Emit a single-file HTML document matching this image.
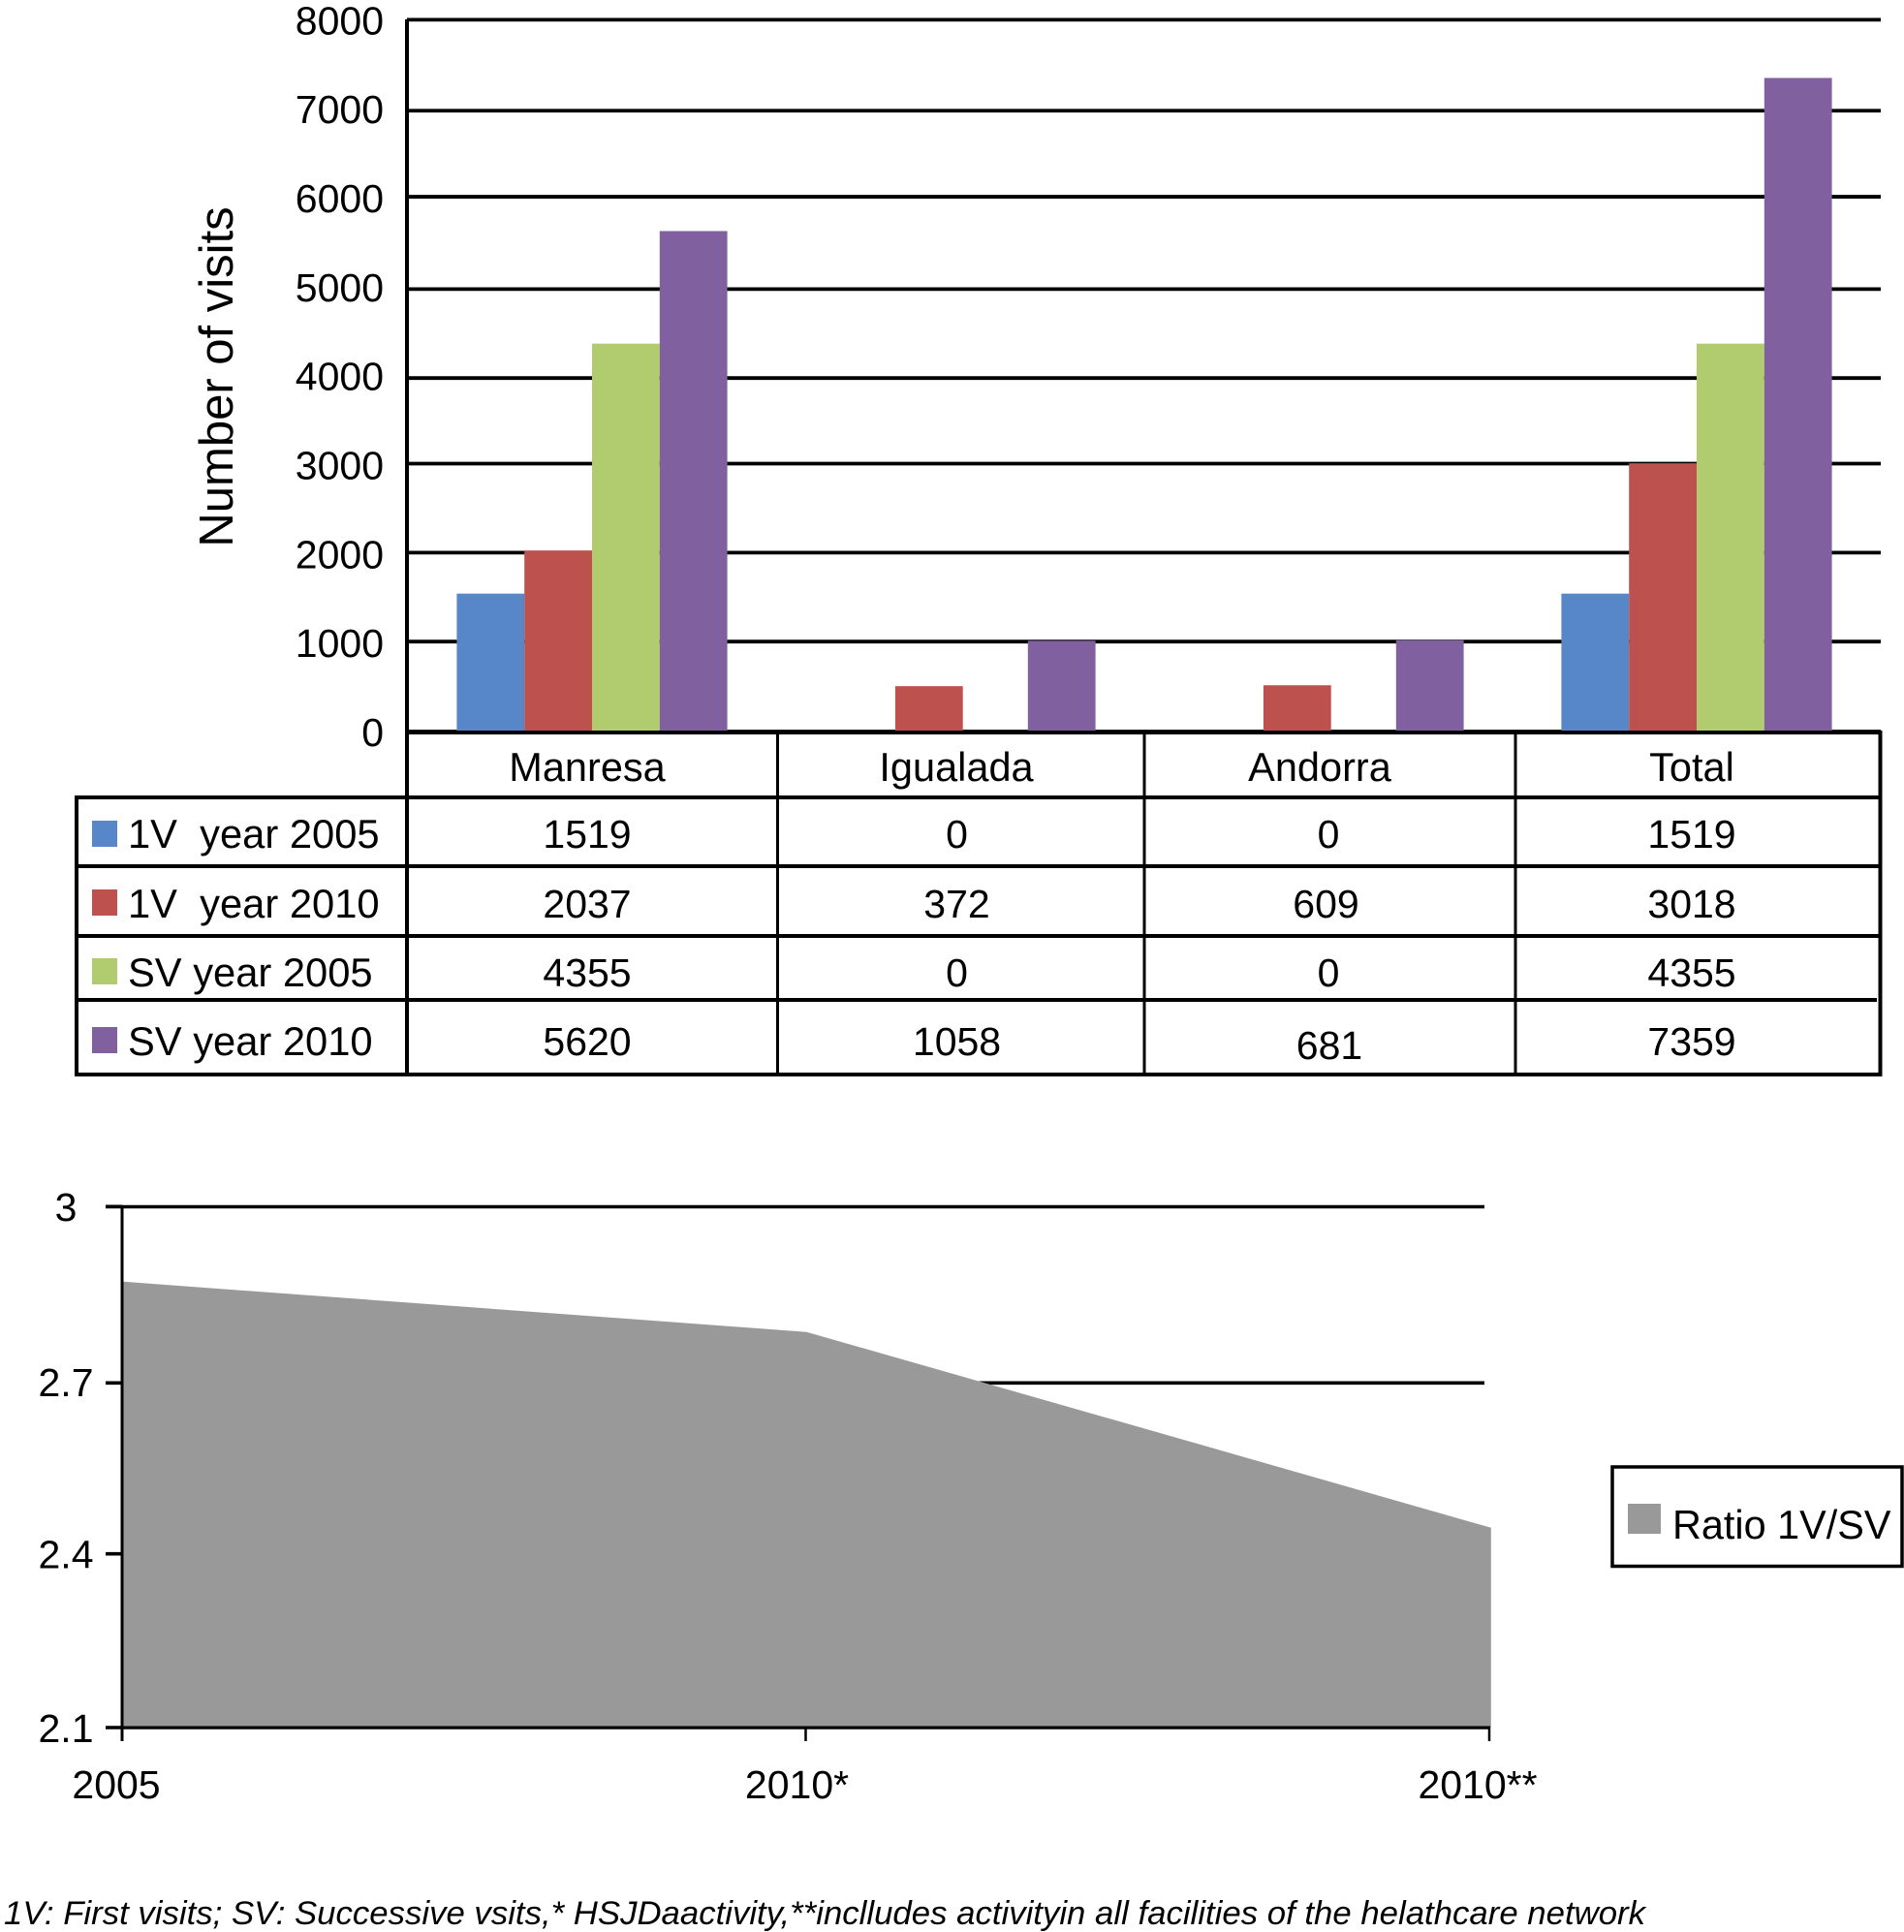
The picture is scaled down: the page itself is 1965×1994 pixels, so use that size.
<!DOCTYPE html>
<html lang="en">
<head>
<meta charset="utf-8">
<title>Number of visits and ratio 1V/SV</title>
<style>
html,body{margin:0;padding:0;background:#fff;width:1965px;height:1994px;overflow:hidden}
svg{display:block;font-family:"Liberation Sans",Arial,sans-serif;fill:#000}
text{white-space:pre}
</style>
</head>
<body>
<svg id="figure" xmlns="http://www.w3.org/2000/svg" width="1965" height="1994" viewBox="0 0 1965 1994">
  <rect width="1965" height="1994" fill="#fff"/>
  <g id="grid-top"></g>
  <g id="bars"></g>
  <g id="axis-top"></g>
  <g id="table"></g>
  <text x="240" y="389" font-size="49" text-anchor="middle" transform="rotate(-90 240 389)">Number of visits</text>
  <g id="grid-bottom"></g>
  <g id="area"></g>
  <g id="axis-bottom"></g>
  <g>
    <rect x="1664" y="1514" width="299" height="102.5" fill="#fff" stroke="#000" stroke-width="3.5"/>
    <rect x="1680" y="1552" width="34" height="31" fill="#999999"/>
    <text x="1726" y="1588" font-size="41.4">Ratio 1V/SV</text>
  </g>
  <text x="4" y="1986" font-size="34" font-style="italic" textLength="1694" lengthAdjust="spacingAndGlyphs">1V: First visits; SV: Successive vsits,* HSJDaactivity,**inclludes activityin all facilities of the helathcare network</text>
</svg>
<script>
// ---- bar chart data ----
const categories = ['Manresa', 'Igualada', 'Andorra', 'Total'];
const seriesNames = ['1V  year 2005', '1V  year 2010', 'SV year 2005', 'SV year 2010'];
const seriesColors = ['#5787c9', '#bc514d', '#b1cc6f', '#80609f'];
// bar heights as drawn in the picture
const bars1V2005 = [1550, 0, 0, 1550];
const bars1V2010 = [2035, 510, 520, 3015];
const barsSV2005 = [4360, 0, 0, 4360];
const barsSV2010 = [5625, 1020, 1025, 7346];
const yTicksTop = [0, 1000, 2000, 3000, 4000, 5000, 6000, 7000, 8000];
// values printed in the table
const table1V2005 = ['1519', '0', '0', '1519'];
const table1V2010 = ['2037', '372', '609', '3018'];
const tableSV2005 = ['4355', '0', '0', '4355'];
const tableSV2010 = ['5620', '1058', '681', '7359'];
// ---- area chart data ----
const ratioCategories = ['2005', '2010*', '2010**'];
const ratioValues = [2.87, 2.783, 2.445];
const yTicksBottom = [2.1, 2.4, 2.7, 3];
const yTickLabelsBottom = ['2.1', '2.4', '2.7', '3'];

const NS = 'http://www.w3.org/2000/svg';
function el(tag, attrs, parent) {
  const n = document.createElementNS(NS, tag);
  for (const k in attrs) n.setAttribute(k, attrs[k]);
  parent.appendChild(n);
  return n;
}
const yTop = v => 755 - (v / 8000) * 734.6;
const catCenter = i => 611 + 380 * i;
const slotW = 69.8;
const yBot = v => 1783 - ((v - 2.1) / 0.9) * 538;
const xBot = i => 126 + 705.5 * i;
// the source gridlines are drawn slightly unevenly
const gridWobble = t => ({7000: 2, 6000: -1, 5000: 2.5, 4000: 2.5, 3000: -1, 2000: -1, 1000: -1}[t] || 0);

// gridlines of the bar chart
const gridTop = document.getElementById('grid-top');
yTicksTop.forEach(t => {
  const l = el('line', {x1: 420, x2: 1941, y1: yTop(t) + gridWobble(t), y2: yTop(t) + gridWobble(t), stroke: '#000', 'stroke-width': 3.8}, gridTop);
  
  
});

// bars
const barsGroup = document.getElementById('bars');
[bars1V2005, bars1V2010, barsSV2005, barsSV2010].forEach((vals, s) => {
  vals.forEach((v, c) => {
    if (v <= 0) return;
    const shift = (s === 1 && (c === 1 || c === 2)) ? 2.7 : 0;
    const r = el('rect', {x: catCenter(c) - 2 * slotW + s * slotW + shift, y: yTop(v), width: slotW, height: 757 - yTop(v), fill: seriesColors[s]}, barsGroup);
    
    
  });
});

// y axis of the bar chart
const axisTop = document.getElementById('axis-top');
yTicksTop.forEach(t => {
  const tx = el('text', {x: 396, y: yTop(t) + 15, 'font-size': 41, 'text-anchor': 'end'}, axisTop);
  
  
  tx.textContent = String(t);
});

// data table
const tableG = document.getElementById('table');
function tableLine(x1, y1, x2, y2, w, name) {
  const l = el('line', {x1: x1, y1: y1, x2: x2, y2: y2, stroke: '#000', 'stroke-width': w}, tableG);
  
  
}
const rowLines = [823, 894, 966, 1032, 1109];
const colLines = [802.5, 1181, 1564];
tableLine(420, 20, 420, 1111, 4, 'table-axis-line');
tableLine(79, 821, 79, 1111, 4, 'table-left-border');
tableLine(1940.5, 754, 1940.5, 1111, 4, 'table-right-border');
tableLine(420, 756, 1942, 756, 4, 'table-top-border');
rowLines.forEach((y, i) => {
  tableLine(79, y, i === 3 ? 1937 : 1942, y, 4, 'table-row-line-' + i);
});
colLines.forEach((x, i) => {
  tableLine(x, 756, x, 1109, 3, 'table-col-line-' + i);
});
const colCenter = i => catCenter(i) - 5;
const headerShift = [0, 1, -4, 0];
categories.forEach((c, i) => {
  const t = el('text', {x: colCenter(i) + headerShift[i], y: 806, 'font-size': 41.5, 'text-anchor': 'middle'}, tableG);
  
  
  t.textContent = c;
});
const baselines = [875, 947, 1018, 1089];
const swatchTops = [847, 918, 989, 1060];
[table1V2005, table1V2010, tableSV2005, tableSV2010].forEach((vals, r) => {
  const sw = el('rect', {x: 95, y: swatchTops[r], width: 26, height: 27, fill: seriesColors[r]}, tableG);
  
  
  const lab = el('text', {x: 132, y: baselines[r], 'font-size': 41.7}, tableG);
  
  
  lab.textContent = seriesNames[r];
  vals.forEach((v, c) => {
    const nudge = (r === 3 && c === 2) ? 4 : 0;
    let dx = c === 2 ? 5 : (c === 1 ? 1.5 : 0);
    if (r === 1 && c === 2) dx = 2.5;
    if (r === 3 && c === 2) dx = 6;
    const t = el('text', {x: colCenter(c) + dx, y: baselines[r] + nudge, 'font-size': 41, 'text-anchor': 'middle'}, tableG);
    
    
    t.textContent = v;
  });
});

// area chart gridlines
const gridBottom = document.getElementById('grid-bottom');
yTicksBottom.forEach(t => {
  const wob = t === 2.7 ? 3 : (t === 3 ? 0.5 : 0);
  const l = el('line', {x1: 109, x2: t === 2.1 ? 1537 : t === 2.4 ? 126 : 1532, y1: yBot(t) + wob, y2: yBot(t) + wob, stroke: '#000', 'stroke-width': 3.6}, gridBottom);
  
  
});

// area series
const areaG = document.getElementById('area');
const areaX = i => xBot(i) + i * 0.9;
const areaPts = ratioValues.map((v, i) => areaX(i) + ',' + yBot(v));
areaPts.push(areaX(ratioValues.length - 1) + ',' + yBot(2.1));
areaPts.push(areaX(0) + ',' + yBot(2.1));
const poly = el('polygon', {points: areaPts.join(' '), fill: '#999999'}, areaG);



// area chart axes
const axisBottom = document.getElementById('axis-bottom');
const yLine = el('line', {x1: 126, x2: 126, y1: yBot(3) - 1, y2: 1797, stroke: '#000', 'stroke-width': 3}, axisBottom);


const xLine = el('line', {x1: 109, x2: 1538, y1: yBot(2.1), y2: yBot(2.1), stroke: '#000', 'stroke-width': 3}, axisBottom);


yTicksBottom.forEach((t, i) => {
  const tickWob = t === 2.7 ? 3 : 0;
  const tick = el('line', {x1: 109, x2: 126, y1: yBot(t) + tickWob, y2: yBot(t) + tickWob, stroke: '#000', 'stroke-width': 3}, axisBottom);
  
  
  const tx = el('text', {x: 68, y: yBot(t) + 15 + tickWob / 2, 'font-size': 41, 'text-anchor': 'middle'}, axisBottom);
  
  
  tx.textContent = yTickLabelsBottom[i];
});
ratioCategories.forEach((c, i) => {
  const tick = el('line', {x1: xBot(i), x2: xBot(i), y1: yBot(2.1), y2: 1797, stroke: '#000', 'stroke-width': 2.5}, axisBottom);
  
  
  const tx = el('text', {x: xBot(i) - 6 - i * 3, y: 1856, 'font-size': 41, 'text-anchor': 'middle'}, axisBottom);
  
  
  tx.textContent = c;
});
</script>
</body>
</html>
